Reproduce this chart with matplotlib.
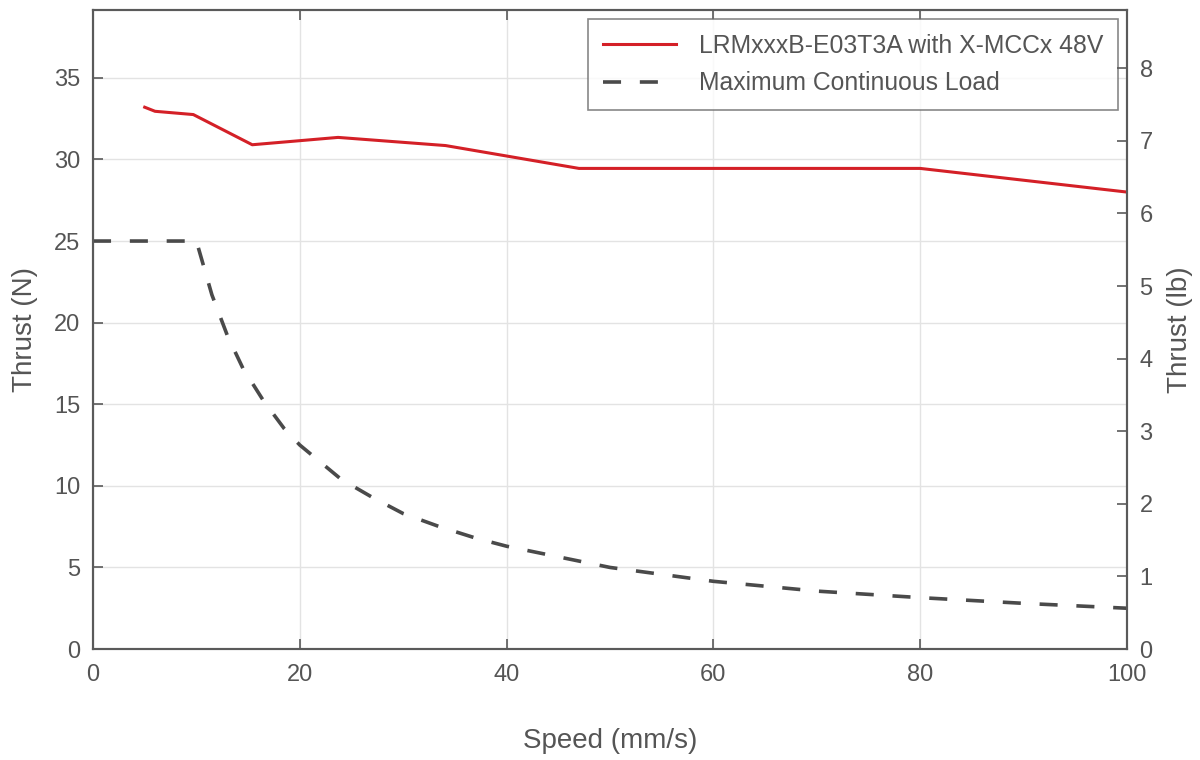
import matplotlib
matplotlib.use("Agg")
import matplotlib.pyplot as plt

# thrust curve of the drive (N) vs. speed (mm/s)
speed_thrust = [5, 6, 9.7, 15.4, 23.7, 34.1, 47, 80, 100]
thrust_n = [33.2, 32.95, 32.75, 30.9, 31.35, 30.85, 29.45, 29.45, 28.0]

# maximum continuous load (N) vs. speed (mm/s)
speed_load = [0, 10, 11.5, 13, 14.5, 16.5, 18.5, 20, 24, 27, 30, 33.5, 37,
              40, 50, 60, 70, 80, 90, 100]
load_n = [25, 25, 21.7, 19.2, 17.2, 15.2, 13.5, 12.5, 10.4, 9.3, 8.3, 7.5, 6.8,
          6.3, 5.0, 4.15, 3.55, 3.15, 2.8, 2.5]

series_labels = ["LRMxxxB-E03T3A with X-MCCx 48V", "Maximum Continuous Load"]
x_ticks = [0, 20, 40, 60, 80, 100]
y_ticks_n = [0, 5, 10, 15, 20, 25, 30, 35]
y_ticks_lb = [0, 1, 2, 3, 4, 5, 6, 7, 8]

N_PER_LB = 4.448
Y_MAX_N = 39.15

TEXT = "#555555"
AXIS = "#5a5a5a"

plt.rcParams["font.family"] = ["Liberation Sans", "DejaVu Sans"]
plt.rcParams["font.size"] = 17

fig = plt.figure(figsize=(12, 7.6), dpi=100)
ax = fig.add_axes([0.0775, 0.146, 0.8617, 0.8407])

ax.plot(speed_thrust, thrust_n, color="#d42027", lw=2.2, label=series_labels[0],
        zorder=3)
ax.plot(speed_load, load_n, color="#4a4a4a", lw=2.6, ls=(0, (5, 5.2)),
        label=series_labels[1], zorder=3)

ax.set_xlim(0, 100)
ax.set_ylim(0, Y_MAX_N)
ax.set_xticks(x_ticks)
ax.set_yticks(y_ticks_n)
ax.grid(True, color="#e3e3e3", lw=1.0)
ax.set_axisbelow(True)

ax.tick_params(direction="in", length=7, width=1.2, colors=AXIS,
               labelcolor=TEXT, labelsize=17, top=True)
ax.tick_params(axis="x", pad=11)
ax.tick_params(axis="y", pad=9)
for sp in ax.spines.values():
    sp.set_color(AXIS)
    sp.set_linewidth(1.5)

ax.set_xlabel("Speed (mm/s)", color=TEXT, fontsize=20, labelpad=30)
ax.set_ylabel("Thrust (N)", color=TEXT, fontsize=20, labelpad=12)

# secondary axis in pounds
ax2 = ax.twinx()
ax2.set_ylim(0, Y_MAX_N / N_PER_LB)
ax2.set_yticks(y_ticks_lb)
ax2.tick_params(direction="in", length=7, width=1.2, colors=AXIS,
                labelcolor=TEXT, labelsize=17, pad=9)
for sp in ax2.spines.values():
    sp.set_color(AXIS)
    sp.set_linewidth(1.5)
ax2.set_ylabel("Thrust (lb)", color=TEXT, fontsize=20, labelpad=10)

leg = ax.legend(loc="upper right", fontsize=17.8, frameon=True, fancybox=False,
                borderaxespad=0.35, handlelength=2.95, handletextpad=0.95,
                borderpad=0.6, labelspacing=0.55)
leg.get_frame().set_edgecolor("#6a6a6a")
leg.get_frame().set_linewidth(1.2)
for t in leg.get_texts():
    t.set_color(TEXT)

fig.savefig("out.png", dpi=100)
